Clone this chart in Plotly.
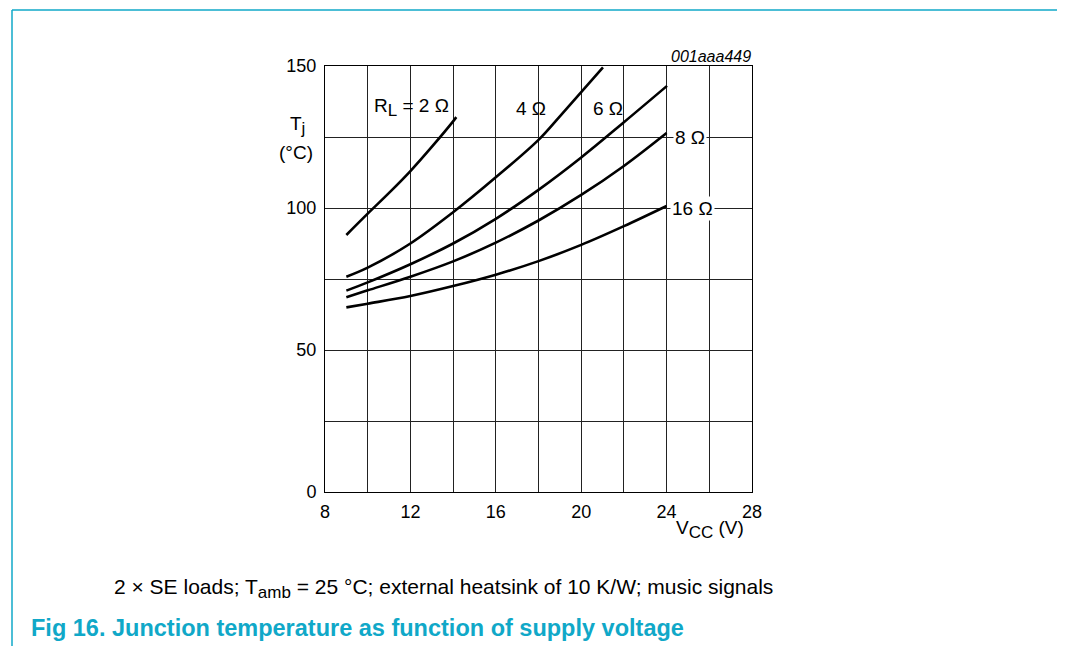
import plotly.graph_objects as go

# ---- data ----
vcc_2 = [9, 10, 11, 12, 13, 14, 14.15]
tj_2 = [90.5, 98, 105.3, 113, 121.5, 130.5, 132]

vcc_4 = [9, 10, 12, 14, 16, 18, 19, 20, 21.02]
tj_4 = [75.8, 79, 87.5, 98.5, 110.8, 124.0, 132.3, 140.8, 149.5]

vcc_6 = [9, 10, 12, 14, 16, 18, 20, 22, 24.02]
tj_6 = [70.9, 73.8, 80.2, 87.5, 96.2, 106.4, 117.8, 130.2, 143]

vcc_8 = [9, 10, 12, 14, 16, 18, 20, 22, 24]
tj_8 = [68.6, 71.0, 75.8, 81.2, 87.8, 95.6, 104.6, 114.8, 126.4]

vcc_16 = [9, 10, 12, 14, 16, 18, 20, 22, 24]
tj_16 = [65, 66.3, 69, 72.5, 76.5, 81.3, 87, 93.6, 100.7]

x_ticks = [8, 10, 12, 14, 16, 18, 20, 22, 24, 26, 28]
x_labels = ["8", "", "12", "", "16", "", "20", "", "24", "", "28"]
y_ticks = [0, 25, 50, 75, 100, 125, 150]
y_labels = ["0", "", "50", "", "100", "", "150"]

series = [(vcc_2, tj_2), (vcc_4, tj_4), (vcc_6, tj_6), (vcc_8, tj_8), (vcc_16, tj_16)]

# ---- layout geometry (reference pixels; page body adds an 8px offset) ----
W, H = 1065, 646
OFF = 8
FW, FH = W - OFF, H - OFF
L, R, T, B = 325, 752, 66, 492
FONT = "Liberation Sans, Arial, Helvetica, sans-serif"
CYAN = "#10a8c8"

def px(x):
    return (x - L) / (R - L)

def py(y):
    return (B - y) / (B - T)

fig = go.Figure()
for xs, ys in series:
    fig.add_trace(go.Scatter(x=xs, y=ys, mode="lines", line=dict(color="black", width=2.6, shape="spline"),
                             showlegend=False, hoverinfo="skip"))

fig.update_layout(
    width=FW, height=FH,
    margin=dict(l=L - OFF, r=FW - (R - OFF), t=T - OFF, b=FH - (B - OFF), pad=0),
    paper_bgcolor="white", plot_bgcolor="white",
    font=dict(family=FONT, color="black", size=18),
    showlegend=False,
)
fig.update_xaxes(range=[8, 28], tickvals=x_ticks, ticktext=x_labels, showgrid=True, gridcolor="#222", gridwidth=1,
                 showline=True, linecolor="black", linewidth=1, mirror=True, zeroline=False, ticks="",
                 ticklabelstandoff=3, tickfont=dict(size=18))
fig.update_yaxes(range=[0, 150], tickvals=y_ticks, ticktext=y_labels, showgrid=True, gridcolor="#222", gridwidth=1,
                 showline=True, linecolor="black", linewidth=1, mirror=True, zeroline=False, ticks="",
                 ticklabelstandoff=4, tickfont=dict(size=18))

ann = []
def text(x, y, s, size=19, xanchor="center", yanchor="middle", data=False, **kw):
    d = dict(x=x, y=y, text=s, showarrow=False, xref="x" if data else "paper", yref="y" if data else "paper",
             xanchor=xanchor, yanchor=yanchor,
             font=dict(family=FONT, size=size, color=kw.pop("color", "black")))
    d.update(kw)
    ann.append(d)

SUB = "<sub><span style='font-size:17px'>%s</span></sub>"

# curve labels (data coordinates)
text(12.03, 135.5, "R" + SUB % "L" + " = 2 Ω", data=True)
text(17.63, 135.0, "4 Ω", data=True)
text(21.25, 135.0, "6 Ω", data=True)
text(25.1, 125.0, "8 Ω", data=True, bgcolor="white", borderpad=1)
text(25.2, 100.0, "16 Ω", data=True, bgcolor="white", borderpad=1)

# axis titles
text(px(297), py(125), "T" + SUB % "j")
text(px(296), py(152), "(°C)")
text(px(710), py(529), "V" + SUB % "CC" + " (V)")
text(px(753), py(56), "<i>001aaa449</i>", size=16, xanchor="right")

# captions
text(px(112), py(588), "2 × SE loads; T" + SUB % "amb" + " = 25 °C; external heatsink of 10 K/W; music signals",
     size=21, xanchor="left")
text(px(29), py(628), "<b>Fig 16. Junction temperature as function of supply voltage</b>", size=23.5,
     xanchor="left", color=CYAN)
fig.update_layout(annotations=ann)

# cyan frame
fig.add_shape(type="line", xref="paper", yref="paper", x0=px(12), x1=px(W + 5), y0=py(10), y1=py(10),
              line=dict(color=CYAN, width=1.5))
fig.add_shape(type="line", xref="paper", yref="paper", x0=px(12), x1=px(12), y0=py(10), y1=py(H + 5),
              line=dict(color=CYAN, width=1.5))

fig.write_html("out.html")
